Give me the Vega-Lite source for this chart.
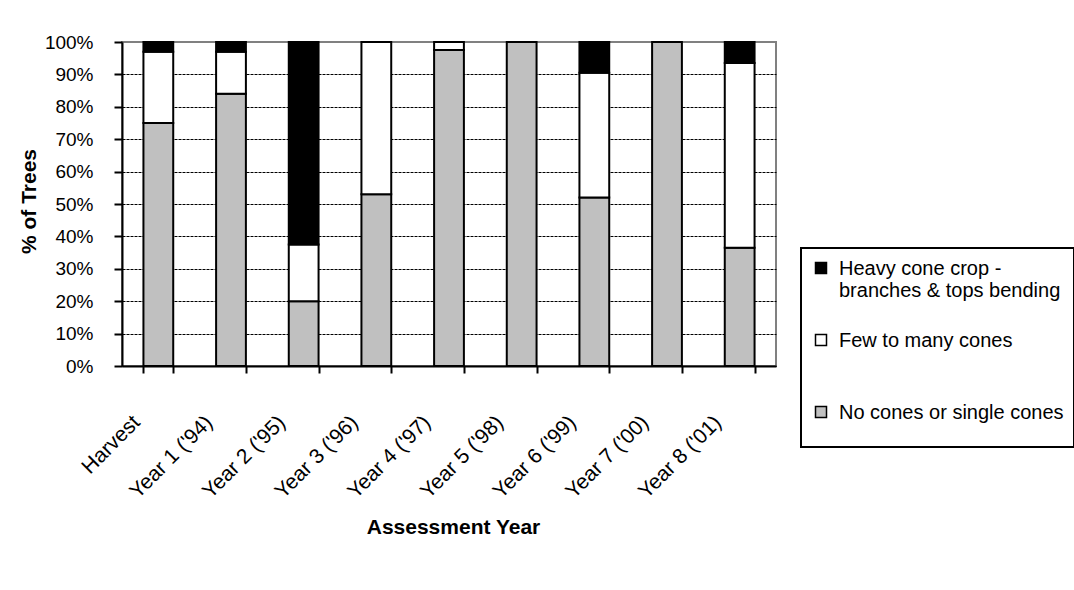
{
  "$schema": "https://vega.github.io/schema/vega-lite/v6.json",
  "width": 654,
  "height": 324,
  "autosize": "none",
  "padding": {"left": 122, "top": 42, "right": 298, "bottom": 224},
  "background": "white",
  "config": {
    "font": "Liberation Sans",
    "view": {"stroke": "#808080", "strokeWidth": 2}
  },
  "data": {
    "values": [
      {"year": "Harvest", "cat": "No cones or single cones", "ord": 1, "pct": 75},
      {"year": "Harvest", "cat": "Few to many cones", "ord": 2, "pct": 22},
      {"year": "Harvest", "cat": "Heavy cone crop -|branches & tops bending", "ord": 3, "pct": 3},
      {"year": "Year 1 ('94)", "cat": "No cones or single cones", "ord": 1, "pct": 84},
      {"year": "Year 1 ('94)", "cat": "Few to many cones", "ord": 2, "pct": 13},
      {"year": "Year 1 ('94)", "cat": "Heavy cone crop -|branches & tops bending", "ord": 3, "pct": 3},
      {"year": "Year 2 ('95)", "cat": "No cones or single cones", "ord": 1, "pct": 20},
      {"year": "Year 2 ('95)", "cat": "Few to many cones", "ord": 2, "pct": 17.5},
      {"year": "Year 2 ('95)", "cat": "Heavy cone crop -|branches & tops bending", "ord": 3, "pct": 62.5},
      {"year": "Year 3 ('96)", "cat": "No cones or single cones", "ord": 1, "pct": 53},
      {"year": "Year 3 ('96)", "cat": "Few to many cones", "ord": 2, "pct": 47},
      {"year": "Year 4 ('97)", "cat": "No cones or single cones", "ord": 1, "pct": 97.5},
      {"year": "Year 4 ('97)", "cat": "Few to many cones", "ord": 2, "pct": 2.5},
      {"year": "Year 5 ('98)", "cat": "No cones or single cones", "ord": 1, "pct": 100},
      {"year": "Year 6 ('99)", "cat": "No cones or single cones", "ord": 1, "pct": 52},
      {"year": "Year 6 ('99)", "cat": "Few to many cones", "ord": 2, "pct": 38.5},
      {"year": "Year 6 ('99)", "cat": "Heavy cone crop -|branches & tops bending", "ord": 3, "pct": 9.5},
      {"year": "Year 7 ('00)", "cat": "No cones or single cones", "ord": 1, "pct": 100},
      {"year": "Year 8 ('01)", "cat": "No cones or single cones", "ord": 1, "pct": 36.5},
      {"year": "Year 8 ('01)", "cat": "Few to many cones", "ord": 2, "pct": 57},
      {"year": "Year 8 ('01)", "cat": "Heavy cone crop -|branches & tops bending", "ord": 3, "pct": 6.5}
    ]
  },
  "mark": {"type": "bar", "stroke": "black", "strokeWidth": 2},
  "encoding": {
    "x": {
      "field": "year",
      "type": "nominal",
      "sort": null,
      "scale": {"paddingInner": 0.59, "paddingOuter": 0.295},
      "axis": {
        "title": "Assessment Year",
        "titleFont": "Liberation Sans",
        "titleFontSize": 21,
        "titleFontWeight": "bold",
        "titleColor": "black",
        "titleX": 331,
        "titleY": 161,
        "titleBaseline": "middle",
        "titleAlign": "center",
        "labelAngle": -45,
        "labelAlign": "right",
        "labelBaseline": "middle",
        "labelFontSize": 21,
        "labelColor": "black",
        "labelOffset": -22,
        "labelPadding": 46,
        "tickBand": "extent",
        "tickSize": 7,
        "tickWidth": 2,
        "tickColor": "black",
        "domainColor": "black",
        "domainWidth": 2,
        "grid": false
      }
    },
    "y": {
      "field": "pct",
      "type": "quantitative",
      "stack": "normalize",
      "scale": {"domain": [0, 1]},
      "axis": {
        "title": "% of Trees",
        "titleFont": "Liberation Sans",
        "titleFontSize": 21,
        "titleFontWeight": "bold",
        "titleColor": "black",
        "titleAngle": -90,
        "titleX": -93,
        "titleY": 159,
        "titleBaseline": "middle",
        "titleAlign": "center",
        "format": ".0%",
        "values": [0, 0.1, 0.2, 0.3, 0.4, 0.5, 0.6, 0.7, 0.8, 0.9, 1],
        "labelFontSize": 19,
        "labelColor": "black",
        "labelPadding": 21,
        "tickSize": 8,
        "tickWidth": 2,
        "tickColor": "black",
        "domainColor": "black",
        "domainWidth": 2,
        "grid": true,
        "gridColor": "black",
        "gridWidth": 1,
        "gridDash": [3, 1],
        "gridOpacity": {"condition": {"test": "datum.value >= 1", "value": 0}, "value": 1}
      }
    },
    "color": {
      "field": "cat",
      "type": "nominal",
      "scale": {
        "domain": ["Heavy cone crop -|branches & tops bending", "Few to many cones", "No cones or single cones"],
        "range": ["black", "white", "#c0c0c0"]
      },
      "legend": {
        "title": " ",
        "titleOrient": "bottom",
        "titleFontSize": 14,
        "titlePadding": 0,
        "orient": "none",
        "legendX": 679,
        "legendY": 206,
        "padding": 10,
        "strokeColor": "black",
        "fillColor": "white",
        "symbolType": "square",
        "symbolSize": 121,
        "symbolStrokeColor": "black",
        "symbolStrokeWidth": 1.5,
        "symbolOpacity": 1,
        "labelFontSize": 20,
        "labelColor": "black",
        "labelLimit": 400,
        "labelOffset": 8,
        "labelExpr": "datum.label == 'Few to many cones' ? [datum.label, ''] : split(datum.label, '|')",
        "labelBaseline": "top",
        "rowPadding": 29,
        "encode": {
          "labels": {"update": {"dy": {"value": -9}}},
          "legend": {"update": {"strokeWidth": {"value": 2}}}
        }
      }
    },
    "order": {"field": "ord", "type": "quantitative"}
  }
}
